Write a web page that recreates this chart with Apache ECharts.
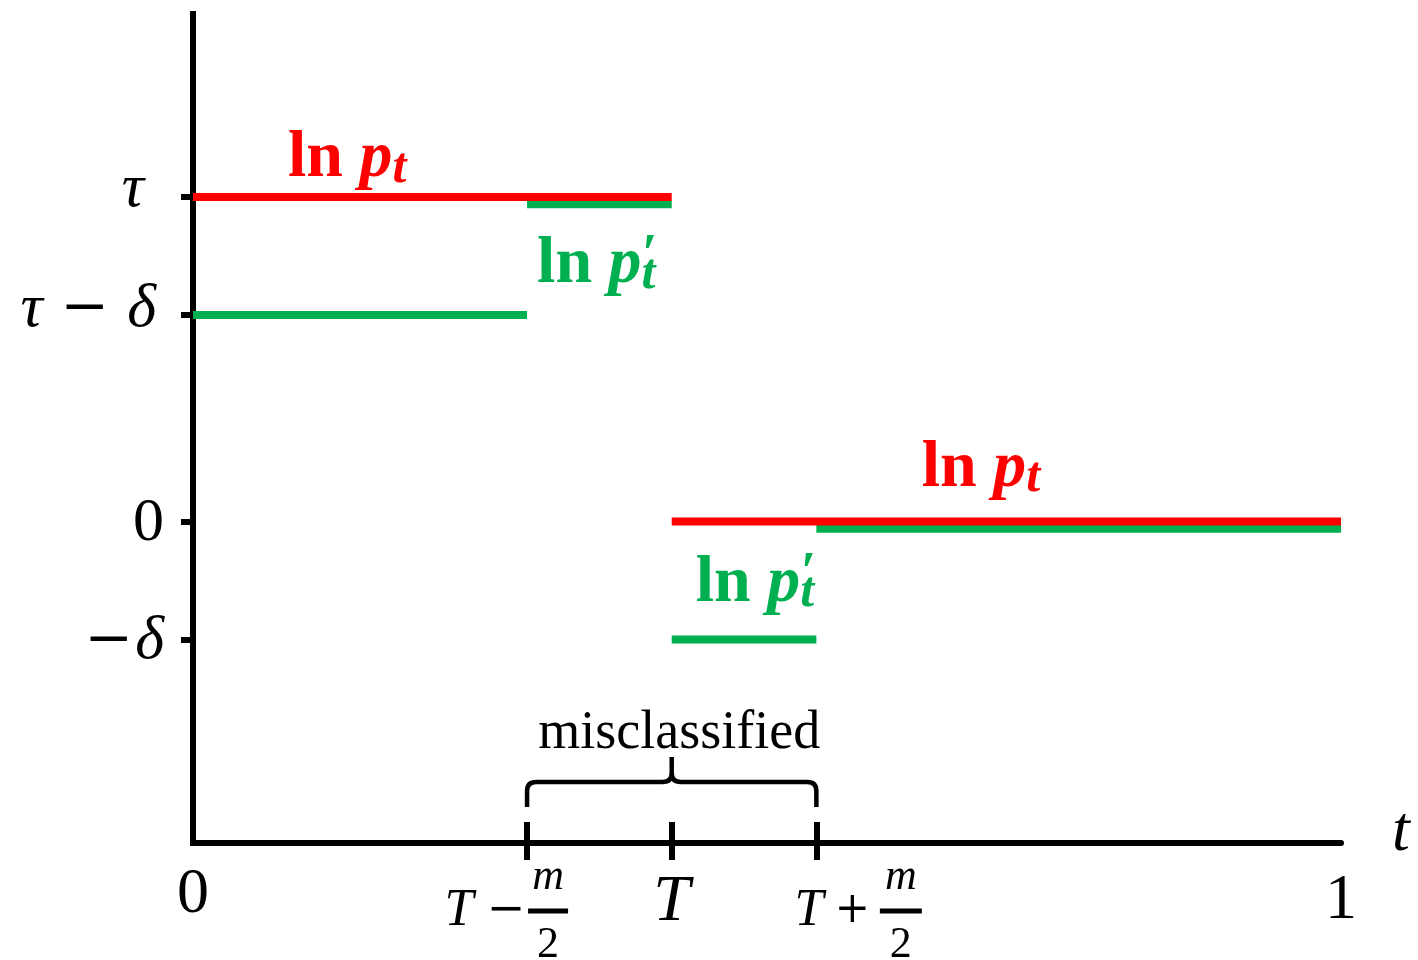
<!DOCTYPE html>
<html lang="en">
<head>
<meta charset="UTF-8">
<title>ln p_t</title>
<style>
  html, body { margin: 0; height: 100%; overflow: hidden; background: #fff; }
  #main { width: 1418px; height: 960px; }
</style>
</head>
<body>
<div id="main"></div>
<script src="https://cdn.jsdelivr.net/npm/echarts@6/dist/echarts.min.js"></script>
<script>
// values, delta taken as one unit
const TAU = 2.75;
const DELTA = 1;
const GAP = 0.062;              // green drawn just under the red where both coincide
const T_LO = 0.291;             // T - m/2
const T_MID = 0.417;            // T
const T_HI = 0.543;             // T + m/2

const xTickValues = [T_LO, T_MID, T_HI];
const xLabelValues = [0, T_LO, T_MID, T_HI, 1];
const yTickValues = [TAU, TAU - DELTA, 0, -DELTA];

const redSegments = [
  [[0, TAU], [T_MID, TAU]],
  [[T_MID, 0], [1, 0]]
];
const greenSegments = [
  [[0, TAU - DELTA], [T_LO, TAU - DELTA]],
  [[T_LO, TAU - GAP], [T_MID, TAU - GAP]],
  [[T_MID, -DELTA], [T_HI, -DELTA]],
  [[T_HI, -GAP], [1, -GAP]]
];

// axis range
const Y_MIN = -2.7246;
const Y_MAX = 4.3008;

const SERIF = '"Liberation Serif", "Times New Roman", serif';
const OPS = '"DejaVu Serif", serif';   // wider minus / plus signs
const RED = '#ff0000';
const GREEN = '#00b050';

function near(a, b) { return Math.abs(a - b) < 1e-6; }

function yLabel(v) {
  if (near(v, TAU)) return '{a|τ}{gap|}';
  if (near(v, TAU - DELTA)) return '{b|τ}{bo|−}{b|δ}{gap2|}';
  if (near(v, 0)) return '{c|0}';
  if (near(v, -DELTA)) return '{do|−}{d|δ}';
  return '';
}

function xLabel(v) {
  const i = xLabelValues.findIndex(x => near(x, v));
  if (i === 0) return '{n0|0}';
  if (i === 1) return '{wl|}{fm|m}{gr|}\n{ti|T}{sp|}{op|−}{bar|}{gr|}\n{wl|}{fd|2}{gr|}';
  if (i === 2) return '{tb|T}';
  if (i === 3) return '{gl|}{wl2|}{fm2|m}\n{gl|}{ti|T}{op2|+}{bar2|}\n{gl|}{wl2|}{fd2|2}';
  if (i === 4) return '{n1|1}';
  return '';
}

const italic = { fontFamily: SERIF, fontStyle: 'italic', color: '#000' };
const upright = { fontFamily: SERIF, color: '#000' };
const opStyle = { fontFamily: OPS, color: '#000' };

const lnRich = function (color) {
  const bold = { fontFamily: SERIF, fontWeight: 'bold', color: color };
  return {
    ln: Object.assign({ fontSize: 66, lineHeight: 70 }, bold),
    p: Object.assign({ fontStyle: 'italic', fontSize: 66, lineHeight: 70 }, bold),
    q: Object.assign({ fontStyle: 'italic', fontSize: 54, lineHeight: 58, verticalAlign: 'top', width: 0 }, bold),
    s: Object.assign({ fontStyle: 'italic', fontSize: 50, lineHeight: 26, verticalAlign: 'bottom' }, bold)
  };
};

// text labels next to the steps: anchor point on a segment + pixel offset
const stepLabels = [
  { anchor: [0, TAU], text: '{ln|ln }{p|p}{s|t}', color: RED, offset: [95, -3] },
  { anchor: [T_LO, TAU - GAP], text: '{ln|ln }{p|p}{q|′}{s|t}', color: GREEN, offset: [10, 96] },
  { anchor: [T_MID, 0], text: '{ln|ln }{p|p}{s|t}', color: RED, offset: [250, -18] },
  { anchor: [T_MID, -DELTA], text: '{ln|ln }{p|p}{q|′}{s|t}', color: GREEN, offset: [24, -21] }
];

function segmentSeries(segs, color, z) {
  return segs.map(seg => ({
    type: 'line',
    data: seg,
    symbol: 'none',
    silent: true,
    z: z,
    lineStyle: { color: color, width: 8, cap: 'butt' }
  }));
}

const myChart = echarts.init(document.getElementById('main'));

const option = {
  animation: false,
  grid: { left: 193, right: 77, top: 14, bottom: 117, outerBoundsMode: 'none' },
  xAxis: [
    {
      type: 'value', min: 0, max: 1,
      splitLine: { show: false },
      axisLine: { show: true, onZero: false, lineStyle: { color: '#000', width: 6 } },
      axisTick: { show: true, inside: true, length: 21, customValues: xTickValues, lineStyle: { color: '#000', width: 6 } },
      axisLabel: { show: false },
      name: 't',
      nameLocation: 'end',
      nameGap: 51,
      nameTextStyle: {
        fontFamily: SERIF, fontStyle: 'italic', fontSize: 64, color: '#000',
        verticalAlign: 'bottom', lineHeight: 20
      }
    },
    {
      type: 'value', min: 0, max: 1, position: 'bottom',
      splitLine: { show: false },
      axisLine: { show: false, onZero: false },
      axisTick: { show: true, length: 17, customValues: xTickValues, lineStyle: { color: '#000', width: 6 } },
      axisLabel: {
        show: true,
        margin: 17,
        customValues: xLabelValues,
        formatter: xLabel,
        rich: {
          n0: Object.assign({ fontSize: 64, lineHeight: 70 }, upright),
          n1: Object.assign({ fontSize: 64, lineHeight: 82 }, upright),
          tb: Object.assign({ fontSize: 66, lineHeight: 85 }, italic),
          ti: Object.assign({ fontSize: 52, lineHeight: 34, width: 32 }, italic),
          sp: { width: 9 },
          op: Object.assign({ fontSize: 46, lineHeight: 34, width: 44 }, opStyle),
          op2: Object.assign({ fontSize: 42, lineHeight: 34, width: 55 }, opStyle),
          fm: Object.assign({ fontSize: 44, lineHeight: 34, width: 40 }, italic),
          fd: Object.assign({ fontSize: 44, lineHeight: 34, width: 40 }, upright),
          fm2: Object.assign({ fontSize: 44, lineHeight: 34, width: 42 }, italic),
          fd2: Object.assign({ fontSize: 44, lineHeight: 34, width: 42 }, upright),
          bar: { width: 40, height: 5, backgroundColor: '#000' },
          bar2: { width: 42, height: 5, backgroundColor: '#000' },
          wl: { width: 85 },
          wl2: { width: 87 },
          gr: { width: 43 },
          gl: { width: 82 }
        }
      }
    }
  ],
  yAxis: {
    type: 'value', min: Y_MIN, max: Y_MAX,
    splitLine: { show: false },
    axisLine: { show: true, lineStyle: { color: '#000', width: 6, cap: 'square' } },
    axisTick: { show: true, length: 12, customValues: yTickValues, lineStyle: { color: '#000', width: 6 } },
    axisLabel: {
      show: true,
      margin: 29,
      customValues: yTickValues,
      formatter: yLabel,
      rich: {
        a: Object.assign({ fontSize: 62, padding: [0, 0, 14, 0] }, italic),
        b: Object.assign({ fontSize: 62, padding: [0, 0, 10, 0] }, italic),
        bo: Object.assign({ fontSize: 58, padding: [0, 18, 10, 18] }, opStyle),
        c: Object.assign({ fontSize: 62, padding: [5, 0, 0, 0] }, upright),
        d: Object.assign({ fontSize: 62, padding: [5, 0, 0, 0] }, italic),
        do: Object.assign({ fontSize: 58, padding: [5, 2, 0, 0] }, opStyle),
        gap: { width: 20 },
        gap2: { width: 8 }
      }
    }
  },
  series: [].concat(
    segmentSeries(greenSegments, GREEN, 2),
    segmentSeries(redSegments, RED, 3),
    [{
      type: 'scatter',
      symbolSize: 0,
      silent: true,
      z: 4,
      itemStyle: { opacity: 1 },
      data: stepLabels.map(l => ({
        value: l.anchor,
        label: {
          show: true,
          position: 'inside',
          align: 'left',
          verticalAlign: 'bottom',
          offset: l.offset,
          opacity: 1,
          textBorderWidth: 0,
          formatter: l.text,
          rich: lnRich(l.color)
        }
      }))
    },
    {
      // brace over the misclassified interval
      type: 'custom',
      silent: true,
      z: 5,
      data: [[T_LO, T_MID, T_HI]],
      renderItem: function (params, api) {
        const left = api.coord([api.value(0), Y_MIN]);
        const xm = api.coord([api.value(1), Y_MIN])[0];
        const x2 = api.coord([api.value(2), Y_MIN])[0];
        const x0 = left[0], ay = left[1];
        const yb = ay - 36, yh = ay - 61, yc = ay - 86, r = 9;
        const d = [
          'M', x0, yb, 'L', x0, yh + r, 'Q', x0, yh, x0 + r, yh, 'L', xm - r, yh, 'Q', xm, yh, xm, yh - r, 'L', xm, yc,
          'M', x2, yb, 'L', x2, yh + r, 'Q', x2, yh, x2 - r, yh, 'L', xm + r, yh, 'Q', xm, yh, xm, yh - r, 'L', xm, yc
        ].join(' ');
        return {
          type: 'group',
          children: [
            { type: 'path', shape: { pathData: d }, style: { stroke: '#000', lineWidth: 4.5, fill: null, lineJoin: 'round' } },
            {
              type: 'text',
              style: {
                text: 'misclassified', x: xm + 7.5, y: ay - 109,
                align: 'center', verticalAlign: 'middle',
                font: '54px "Liberation Serif"', fill: '#000'
              }
            }
          ]
        };
      }
    }]
  )
};

myChart.setOption(option);
</script>
</body>
</html>
